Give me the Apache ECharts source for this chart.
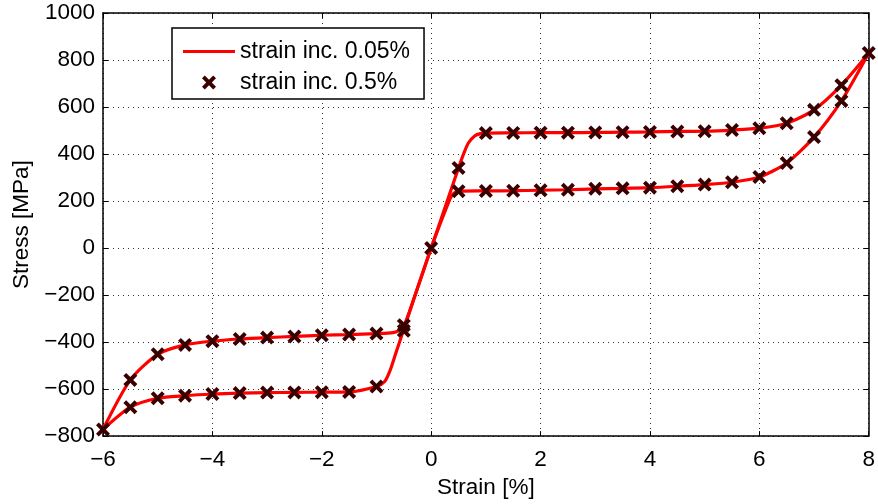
<!DOCTYPE html>
<html>
<head>
<meta charset="utf-8">
<script src="https://cdn.jsdelivr.net/npm/echarts@6/dist/echarts.min.js"></script>
<style>
html,body{margin:0;padding:0;background:#fff;}
#chart{width:878px;height:504px;}
</style>
</head>
<body>
<div id="chart"></div>
<script>
// ---- Data ----
// Fine-increment curve (strain inc. 0.05%), three branches
const fineLoadX   = [0, 0.25, 0.5, 0.6, 0.68, 0.8, 0.9, 1, 1.5, 2, 2.5, 3, 3.5, 4, 4.5, 5, 5.5, 6, 6.5, 7, 7.5, 8];
const fineLoadY   = [0, 170, 341, 405, 447, 478, 487, 489, 490, 491, 491, 492, 493, 494, 496, 497, 502, 510, 531, 588, 693, 830];
const fineUnloadX = [8, 7.5, 7, 6.5, 6, 5.5, 5, 4.5, 4, 3.5, 3, 2.5, 2, 1.5, 1, 0.5, 0.4, 0.34, 0, -0.5, -0.65, -0.75, -0.85, -1, -1.5, -2, -2.5, -3, -3.5, -4, -4.5, -5, -5.5, -6];
const fineUnloadY = [830, 626, 472, 362, 302, 280, 270, 263, 257, 254, 252, 248, 246, 244, 243, 242, 230, 207, 0, -345, -450, -520, -568, -589, -612, -613, -614, -615, -617, -621, -628, -639, -677, -772];
const fineReloadX = [-6, -5.5, -5, -4.5, -4, -3.5, -3, -2.5, -2, -1.5, -1, -0.7, -0.6, -0.5, -0.4, 0];
const fineReloadY = [-772, -561, -452, -412, -396, -387, -381, -376, -371, -368, -364, -360, -352, -330, -272, 0];

// Coarse-increment points (strain inc. 0.5%)
const coarseX = [0, 0.5, 1, 1.5, 2, 2.5, 3, 3.5, 4, 4.5, 5, 5.5, 6, 6.5, 7, 7.5, 8,
                 7.5, 7, 6.5, 6, 5.5, 5, 4.5, 4, 3.5, 3, 2.5, 2, 1.5, 1, 0.5,
                 -0.5, -1, -1.5, -2, -2.5, -3, -3.5, -4, -4.5, -5, -5.5, -6,
                 -5.5, -5, -4.5, -4, -3.5, -3, -2.5, -2, -1.5, -1, -0.5];
const coarseY = [0, 341, 489, 490, 491, 491, 492, 493, 494, 496, 497, 502, 510, 531, 588, 693, 830,
                 626, 472, 362, 302, 280, 270, 263, 257, 254, 252, 248, 246, 244, 243, 242,
                 -352, -589, -612, -613, -614, -615, -617, -621, -628, -639, -677, -772,
                 -561, -452, -412, -396, -387, -381, -376, -371, -368, -364, -328];

const seriesNames = ['strain inc. 0.05%', 'strain inc. 0.5%'];
const xAxisName = 'Strain [%]';
const yAxisName = 'Stress [MPa]';

// ---- Chart ----
const zip = (xs, ys) => xs.map((x, i) => [x, ys[i]]);
const FONT = '"Liberation Sans", Arial, sans-serif';
const xMark = 'path://M2,0 L5,3 L8,0 L10,2 L7,5 L10,8 L8,10 L5,7 L2,10 L0,8 L3,5 L0,2 Z';
const lineIcon = 'path://M0,0 L0,0 M0,5.5 L52,5.5 L52,8.5 L0,8.5 Z M52,14 L52,14';
const markerColor = '#3a0000';

const lineBase = {
  type: 'line', name: seriesNames[0], showSymbol: false, symbol: 'none',
  smooth: 0.25,
  lineStyle: { color: '#ff0000', width: 3.2 }, itemStyle: { color: '#ff0000' },
  z: 2, animation: false
};

const chart = echarts.init(document.getElementById('chart'), null, { renderer: 'canvas' });
const gridLine = { show: true, lineStyle: { color: '#333', width: 1, type: [1, 4] } };
const tickIn = { show: true, inside: true, length: 5, lineStyle: { color: '#000', width: 1 } };
const frame = { show: true, onZero: false, lineStyle: { color: '#000', width: 1.5 } };
const neg = v => (v < 0 ? '\u2212' + Math.abs(v) : String(v));

chart.setOption({
  animation: false,
  backgroundColor: '#fff',
  textStyle: { fontFamily: FONT },
  grid: { left: 103, right: 7, top: 13, bottom: 66, containLabel: false },
  legend: {
    data: [
      { name: seriesNames[0], icon: lineIcon, itemStyle: { color: '#ff0000' } },
      { name: seriesNames[1] }
    ],
    orient: 'vertical', left: 172, top: 28,
    padding: [12, 14, 5, 11], itemGap: 8, itemWidth: 52, itemHeight: 14,
    backgroundColor: '#fff', borderColor: '#000', borderWidth: 1.5, borderRadius: 0,
    textStyle: { fontFamily: FONT, fontSize: 23, color: '#000' }
  },
  xAxis: [{
    type: 'value', min: -6, max: 8, interval: 2,
    name: xAxisName, nameLocation: 'middle', nameGap: 37,
    nameTextStyle: { fontFamily: FONT, fontSize: 22.5, color: '#000' },
    axisLine: frame, axisTick: tickIn, splitLine: gridLine,
    axisLabel: { fontFamily: FONT, fontSize: 22.5, color: '#000', margin: 12, formatter: neg }
  }, {
    type: 'value', position: 'top', min: -6, max: 8, interval: 2,
    axisLine: frame, axisTick: tickIn, splitLine: { show: false }, axisLabel: { show: false }
  }],
  yAxis: [{
    type: 'value', min: -800, max: 1000, interval: 200,
    name: yAxisName, nameLocation: 'middle', nameGap: 70,
    nameTextStyle: { fontFamily: FONT, fontSize: 22.5, color: '#000' },
    axisLine: frame, axisTick: tickIn, splitLine: gridLine,
    axisLabel: { fontFamily: FONT, fontSize: 22.5, color: '#000', margin: 8, formatter: neg }
  }, {
    type: 'value', position: 'right', min: -800, max: 1000, interval: 200,
    axisLine: frame, axisTick: tickIn, splitLine: { show: false }, axisLabel: { show: false }
  }],
  series: [
    Object.assign({}, lineBase, { data: zip(fineLoadX, fineLoadY) }),
    Object.assign({}, lineBase, { data: zip(fineUnloadX, fineUnloadY) }),
    Object.assign({}, lineBase, { data: zip(fineReloadX, fineReloadY) }),
    {
      type: 'scatter', name: seriesNames[1], symbol: xMark, symbolSize: 14,
      itemStyle: { color: markerColor, opacity: 1 }, z: 5,
      data: zip(coarseX, coarseY)
    }
  ]
});
</script>
</body>
</html>
